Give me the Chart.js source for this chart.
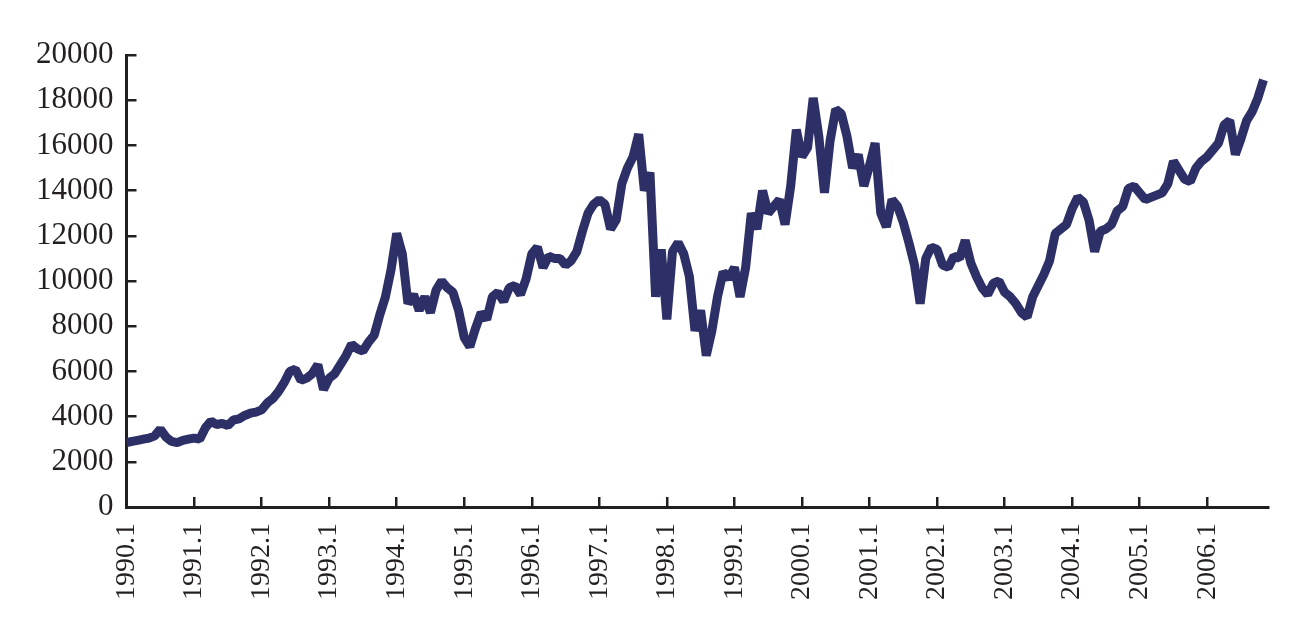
<!DOCTYPE html>
<html>
<head>
<meta charset="utf-8">
<script src="https://cdn.jsdelivr.net/npm/chart.js@4/dist/chart.umd.min.js"></script>
<style>
  html, body { margin: 0; padding: 0; background: #fff; }
  canvas { display: block; }
</style>
</head>
<body>
<canvas id="chart" width="1316" height="626"></canvas>
<script>
// monthly index level, Jan 1990 - Nov 2006
const startYear = 1990;
const values = [
  // 1990
  2850, 2900, 2950, 3000, 3050, 3150, 3450, 3100, 2900, 2850, 2950, 3000,
  // 1991
  3050, 3000, 3500, 3800, 3650, 3700, 3600, 3850, 3900, 4050, 4150, 4200,
  // 1992
  4300, 4600, 4800, 5100, 5500, 6000, 6100, 5600, 5700, 5900, 6300, 5200,
  // 1993
  5700, 5900, 6300, 6700, 7200, 7000, 6900, 7300, 7600, 8500, 9300, 10500,
  // 1994
  12100, 11200, 9000, 9400, 8700, 9300, 8600, 9600, 10000, 9700, 9500, 8700,
  // 1995
  7500, 7100, 7900, 8600, 8300, 9300, 9500, 9100, 9700, 9800, 9400, 10100,
  // 1996
  11200, 11500, 10600, 11100, 11000, 11000, 10700, 10900, 11300, 12200, 13000, 13400,
  // 1997
  13600, 13400, 12300, 12700, 14300, 15000, 15500, 16500, 14000, 14800, 9300, 11400,
  // 1998
  8300, 11300, 11700, 11200, 10200, 7800, 8700, 6700, 7800, 9300, 10400, 10100,
  // 1999
  10600, 9300, 10600, 13000, 12300, 14000, 13000, 13300, 13600, 12500, 14200, 16700,
  // 2000
  15500, 15900, 18100, 16400, 13900, 16200, 17600, 17400, 16400, 15000, 15600, 14200,
  // 2001
  15100, 16100, 13000, 12400, 13600, 13300, 12600, 11700, 10700, 9000, 11000, 11500,
  // 2002
  11400, 10700, 10600, 11100, 11000, 11800, 10800, 10200, 9700, 9400, 9900, 10000,
  // 2003
  9500, 9300, 9000, 8600, 8400, 9300, 9800, 10300, 10900, 12100, 12300, 12500,
  // 2004
  13200, 13700, 13500, 12700, 11300, 12200, 12300, 12500, 13100, 13300, 14100, 14200,
  // 2005
  13900, 13600, 13700, 13800, 13900, 14300, 15300, 14900, 14500, 14400, 15000, 15300,
  // 2006
  15500, 15800, 16100, 16900, 17100, 15600, 16300, 17100, 17500, 18100, 18900
];
const yearTicks = [1990, 1991, 1992, 1993, 1994, 1995, 1996, 1997, 1998,
  1999, 2000, 2001, 2002, 2003, 2004, 2005, 2006];
const yTicks = [0, 2000, 4000, 6000, 8000, 10000, 12000, 14000, 16000, 18000, 20000];

const points = values.map((v, i) => ({ x: startYear + i / 12, y: v }));

const axisColor = '#231f20';

new Chart(document.getElementById('chart'), {
  type: 'line',
  data: {
    datasets: [{
      data: points,
      borderColor: '#2d3066',
      borderWidth: 9,
      pointRadius: 0,
      borderJoinStyle: 'bevel',
      borderCapStyle: 'butt',
      fill: false,
    }],
  },
  options: {
    responsive: false,
    animation: false,
    layout: { padding: { left: 13, right: 48, top: 55, bottom: 0 } },
    plugins: { legend: { display: false }, tooltip: { enabled: false } },
    scales: {
      x: {
        type: 'linear',
        min: 1990,
        max: 2006.9,
        afterBuildTicks: scale => {
          scale.ticks = yearTicks.map(v => ({ value: v }));
        },
        ticks: {
          color: axisColor,
          font: { family: 'Liberation Serif', size: 28 },
          padding: 26,
          minRotation: 90,
          maxRotation: 90,
          autoSkip: false,
          callback: v => v + '.1',
        },
        grid: {
          drawOnChartArea: false,
          color: axisColor,
          lineWidth: 2.5,
          tickLength: -10,
        },
        border: { color: axisColor, width: 3 },
      },
      y: {
        min: 0,
        max: 20000,
        afterBuildTicks: scale => {
          scale.ticks = yTicks.map(v => ({ value: v }));
        },
        ticks: {
          color: axisColor,
          font: { family: 'Liberation Serif', size: 31 },
          padding: 23,
          callback: v => String(v),
        },
        grid: {
          drawOnChartArea: false,
          color: axisColor,
          lineWidth: 2.5,
          tickLength: -10,
        },
        border: { color: axisColor, width: 3 },
      },
    },
  },
});
</script>
</body>
</html>
